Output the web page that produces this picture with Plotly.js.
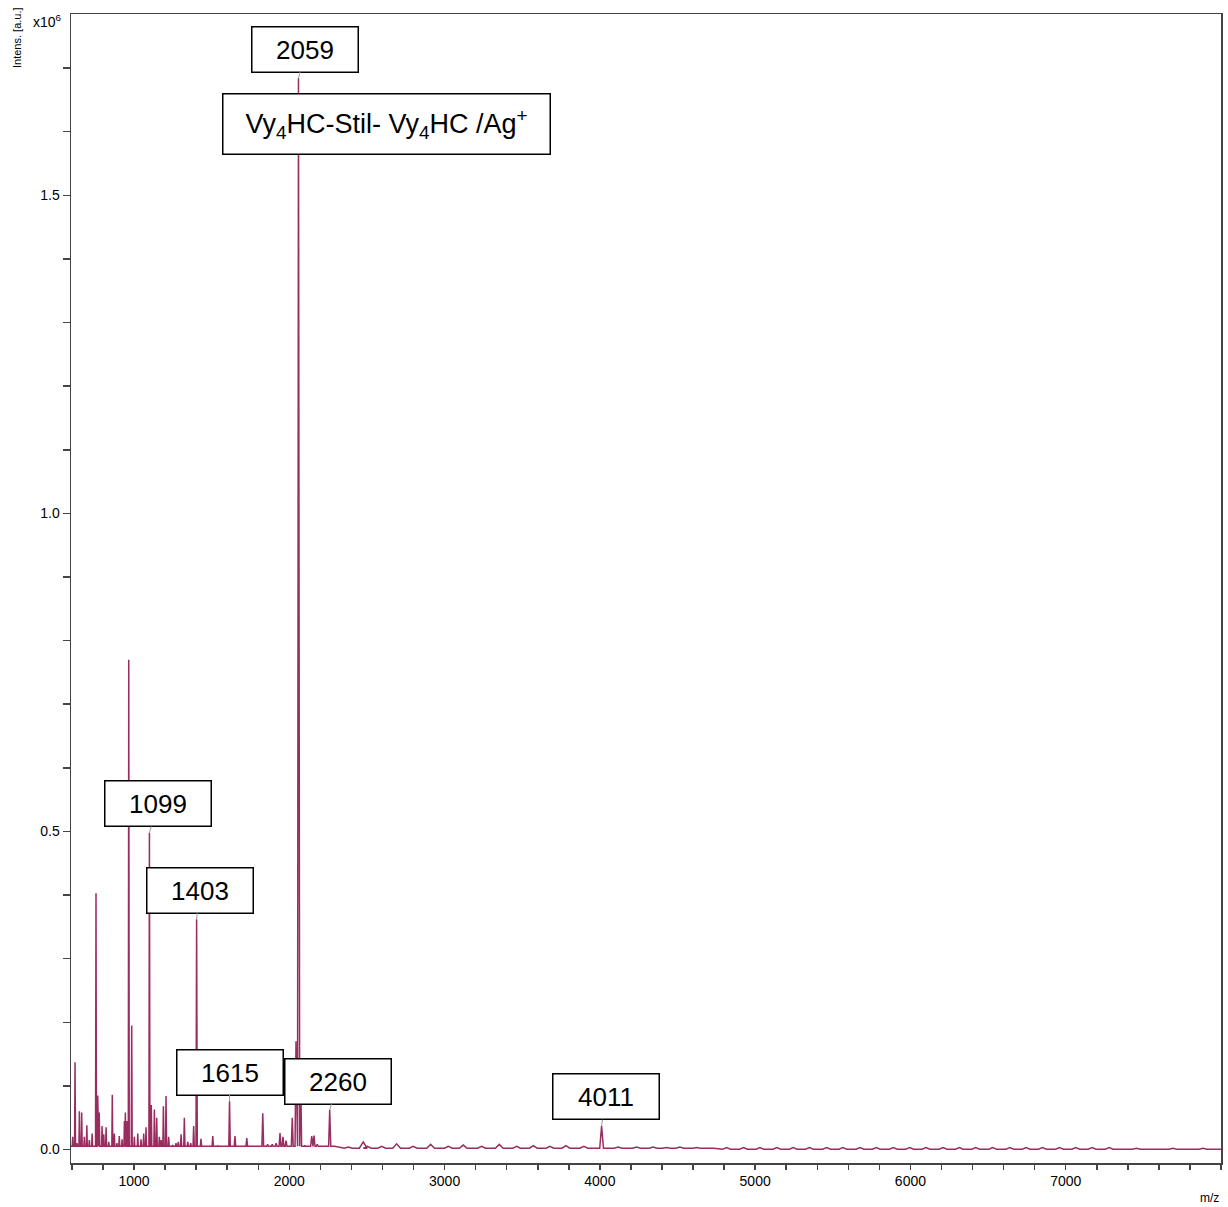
<!DOCTYPE html>
<html>
<head>
<meta charset="utf-8">
<script src="https://cdn.plot.ly/plotly-3.0.1.min.js"></script>
<style>
  html, body { margin: 0; padding: 0; background: #ffffff; }
  #spectrum { width: 1228px; height: 1207px; }
</style>
</head>
<body>
<div id="spectrum"></div>
<script>
// MALDI-TOF spectrum, intensities in units of 10^6 a.u.
const peakMz = [
  605, 620, 633, 648, 663, 680, 696, 712, 730, 755, 766, 776, 794, 805, 820, 837,
  860, 873, 890, 905, 923, 938, 944, 955, 966, 985, 1002, 1024, 1045, 1062, 1077,
  1099, 1111, 1131, 1146, 1163, 1175, 1189, 1206, 1223, 1249, 1270, 1285, 1303,
  1324, 1346, 1365, 1384, 1403, 1431, 1460, 1507, 1540, 1580, 1615, 1650, 1690,
  1726, 1770, 1829, 1860, 1890, 1915, 1940, 1959, 1979, 2019, 2043, 2059, 2073,
  2100, 2144, 2159, 2180, 2200, 2260, 2285, 2380, 2476, 2502, 2595, 2691, 2798,
  2910, 3024, 3120, 3238, 3352, 3464, 3571, 3678, 3781, 3897, 4011, 4118, 4236,
  4343, 4429, 4515, 4623, 4708, 4816, 4925, 5030, 5140, 5245, 5350, 5460, 5565,
  5675, 5780, 5890, 5995, 6100, 6210, 6315, 6420, 6530, 6640, 6745, 6850, 6960,
  7065, 7170, 7280, 7455, 7690, 7884
];
const peakIntensity = [
  0.020, 0.137, 0.010, 0.060, 0.058, 0.020, 0.038, 0.015, 0.025, 0.403, 0.085, 0.058, 0.037, 0.024, 0.035, 0.012,
  0.086, 0.025, 0.010, 0.021, 0.016, 0.045, 0.058, 0.045, 0.770, 0.195, 0.020, 0.025, 0.016, 0.025, 0.035,
  0.498, 0.070, 0.063, 0.050, 0.020, 0.015, 0.068, 0.084, 0.020, 0.007, 0.010, 0.012, 0.024,
  0.050, 0.012, 0.010, 0.037, 0.362, 0.017, 0.006, 0.021, 0.006, 0.005, 0.076, 0.021, 0.005,
  0.018, 0.005, 0.057, 0.008, 0.008, 0.010, 0.026, 0.020, 0.014, 0.050, 0.170, 1.684, 0.120,
  0.006, 0.021, 0.022, 0.008, 0.005, 0.062, 0.005, 0.004, 0.012, 0.005, 0.005, 0.009, 0.005,
  0.008, 0.005, 0.007, 0.005, 0.008, 0.005, 0.006, 0.005, 0.006, 0.005, 0.037, 0.004, 0.004,
  0.004, 0.003, 0.004, 0.003, 0.003, 0.003, 0.003, 0.003, 0.003, 0.003, 0.003, 0.003, 0.003,
  0.003, 0.003, 0.003, 0.003, 0.003, 0.003, 0.003, 0.003, 0.003, 0.003, 0.003, 0.003, 0.003,
  0.003, 0.003, 0.003, 0.002, 0.002, 0.002
];
// noise floor between peaks, per m/z region
const floorStartMz = [594, 2300, 4800];
const floorLevel   = [0.005, 0.002, 0.0005];

// annotated peaks
const labeledMz = [1099, 1403, 1615, 2059, 2260, 4011];
const assignment = 'Vy<sub>4</sub>HC-Stil- Vy<sub>4</sub>HC /Ag<sup>+</sup>';

const xRange = [594, 8000];

function floorAt(mz) {
  let lvl = floorLevel[0];
  for (let i = 0; i < floorStartMz.length; i++) {
    if (mz >= floorStartMz[i]) lvl = floorLevel[i];
  }
  return lvl;
}

// build the profile: each peak is a narrow triangle standing on the noise floor
const xs = [xRange[0]];
const ys = [floorAt(xRange[0])];
for (let i = 0; i < peakMz.length; i++) {
  const mz = peakMz[i], h = peakIntensity[i];
  const broad = mz > 2300 && h < 0.015;
  const hw = broad ? 25 : Math.max(3, 0.003 * mz);
  const f = floorAt(mz);
  xs.push(mz - hw, mz, mz + hw);
  ys.push(f, h, f);
}
xs.push(xRange[1]);
ys.push(floorAt(xRange[1]));

const FONT = 'Liberation Sans, Arial, Helvetica, sans-serif';
const AXIS_COLOR = '#444444';

// label box offsets (px) from the peak apex
const labelShift = {1099: 9, 1403: 3, 1615: 0, 2059: 7, 2260: 8, 4011: 4};

const annotations = labeledMz.map(function (mz) {
  const idx = peakMz.indexOf(mz);
  return {
    x: mz, y: peakIntensity[idx], xref: 'x', yref: 'y',
    text: String(mz),
    showarrow: true, arrowhead: 0, arrowwidth: 1, arrowcolor: '#9a9a9a',
    ax: labelShift[mz], ay: -29, standoff: 0,
    width: 99, height: 38, borderpad: 3, borderwidth: 1.5,
    bordercolor: '#000000', bgcolor: '#ffffff',
    font: {family: FONT, size: 26, color: '#000000'},
    align: 'center'
  };
});

annotations.push({
  xref: 'paper', yref: 'paper', x: 0.2743, y: 0.9043,
  xanchor: 'center', yanchor: 'middle', showarrow: false,
  text: assignment,
  width: 320, height: 53, borderpad: 3, borderwidth: 1.5,
  bordercolor: '#000000', bgcolor: '#ffffff',
  font: {family: FONT, size: 27, color: '#000000'}
});

// axis captions
annotations.push({
  xref: 'paper', yref: 'paper', x: 0, y: 1, xanchor: 'right', yanchor: 'middle',
  xshift: -7, yshift: -7, showarrow: false,
  text: 'x10<sup>6</sup>', font: {family: FONT, size: 14, color: '#000000'}
});
annotations.push({
  xref: 'paper', yref: 'paper', x: 0, y: 1, xanchor: 'center', yanchor: 'middle',
  xshift: -54, yshift: -24, textangle: -90, showarrow: false,
  text: 'Intens. [a.u.]', font: {family: FONT, size: 11, color: '#000000'}
});
annotations.push({
  xref: 'paper', yref: 'paper', x: 1, y: 0, xanchor: 'right', yanchor: 'middle',
  xshift: 0, yshift: -35, showarrow: false,
  text: 'm/z', font: {family: FONT, size: 12, color: '#000000'}
});

const trace = {
  type: 'scatter', mode: 'lines', x: xs, y: ys,
  line: {color: '#9a2d60', width: 1.5},
  hoverinfo: 'skip'
};

const layout = {
  width: 1228, height: 1207,
  margin: {l: 71, r: 7, t: 14, b: 44},
  paper_bgcolor: '#ffffff', plot_bgcolor: '#ffffff',
  showlegend: false,
  font: {family: FONT, color: '#000000'},
  xaxis: {
    range: xRange, showgrid: false, zeroline: false,
    showline: true, linecolor: AXIS_COLOR, linewidth: 1.5, mirror: true,
    tickmode: 'array', tickvals: [1000, 2000, 3000, 4000, 5000, 6000, 7000],
    ticks: 'outside', ticklen: 5, tickwidth: 1.5, tickcolor: AXIS_COLOR,
    tickfont: {family: FONT, size: 14, color: '#000000'},
    minor: {tickmode: 'linear', tick0: 0, dtick: 200, ticks: 'outside', ticklen: 5, tickwidth: 1.5, tickcolor: AXIS_COLOR}
  },
  yaxis: {
    range: [-0.0212, 1.785], showgrid: false, zeroline: false,
    showline: true, linecolor: AXIS_COLOR, linewidth: 1.5, mirror: true,
    tickmode: 'array', tickvals: [0, 0.5, 1.0, 1.5], tickformat: '.1f',
    ticks: 'outside', ticklen: 7, tickwidth: 1.5, tickcolor: AXIS_COLOR,
    tickfont: {family: FONT, size: 14, color: '#000000'},
    minor: {tickmode: 'linear', tick0: 0, dtick: 0.1, ticks: 'outside', ticklen: 7, tickwidth: 1.5, tickcolor: AXIS_COLOR}
  },
  annotations: annotations,
  hovermode: false
};

Plotly.newPlot('spectrum', [trace], layout, {displayModeBar: false, staticPlot: true});
</script>
</body>
</html>
